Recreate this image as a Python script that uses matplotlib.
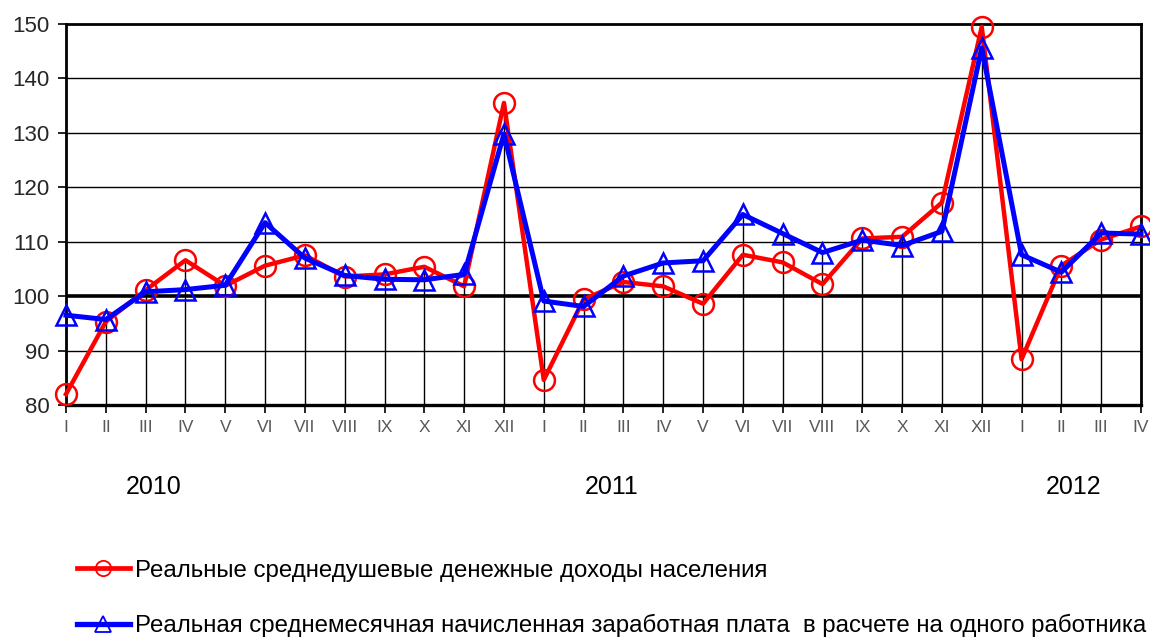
import matplotlib
matplotlib.use('Agg')
import matplotlib.pyplot as plt
from matplotlib.lines import Line2D
from matplotlib.transforms import blended_transform_factory
import numpy as np

months = ['I', 'II', 'III', 'IV', 'V', 'VI', 'VII', 'VIII', 'IX', 'X', 'XI', 'XII',
          'I', 'II', 'III', 'IV', 'V', 'VI', 'VII', 'VIII', 'IX', 'X', 'XI', 'XII',
          'I', 'II', 'III', 'IV']
years = ['2010', '2011', '2012']
year_pos = [2.2, 13.7, 25.3]

income = [82.0, 95.3, 101.1, 106.6, 101.9, 105.6, 107.5, 103.6, 104.0, 105.4, 101.8, 135.5,
          84.6, 99.4, 102.6, 101.8, 98.6, 107.6, 106.2, 102.2, 110.6, 110.9, 117.2, 149.5,
          88.4, 105.6, 110.4, 112.8]
wage = [96.5, 95.7, 100.8, 101.2, 102.0, 113.5, 107.0, 103.8, 103.1, 103.0, 104.0, 129.8,
        99.1, 98.1, 103.7, 106.1, 106.5, 115.0, 111.5, 108.0, 110.3, 109.3, 111.9, 145.6,
        107.6, 104.4, 111.6, 111.4]

label_income = 'Реальные среднедушевые денежные доходы населения'
label_wage = 'Реальная среднемесячная начисленная заработная плата  в расчете на одного работника'

plt.rcParams['font.family'] = ['Liberation Sans', 'DejaVu Sans']

fig = plt.figure(figsize=(11.5, 6.4), dpi=100)
ax = fig.add_axes([66 / 1150, 1 - 405 / 640, (1141 - 66) / 1150, (405 - 24) / 640])

x = np.arange(len(months))

# horizontal grid + reference line at 100
for v in range(90, 150, 10):
    if v == 100:
        continue
    ax.axhline(v, color='black', lw=1.0, zorder=1)
ax.axhline(100, color='black', lw=2.6, zorder=2)

# drop lines from axis up to the higher of the two series
tops = np.maximum(income, wage)
ax.vlines(x, 80, tops, color='black', lw=1.0, zorder=1)

ax.plot(x, income, color='#ff0000', lw=3.2, marker='o', ms=15, mfc='none',
        mec='#ff0000', mew=1.8, zorder=6, clip_on=False)
ax.plot(x, wage, color='#0000ff', lw=3.6, marker='^', ms=15, mfc='none',
        mec='#0000ff', mew=1.8, zorder=7, clip_on=False)

ax.set_xlim(0, len(months) - 1)
ax.set_ylim(80, 150)
ax.set_yticks(range(80, 151, 10))
ax.set_xticks(x)
ax.set_xticklabels(months, color='#595959', fontsize=12.5)
ax.tick_params(axis='y', labelsize=16, labelcolor='#262626', length=6, width=1.2, pad=6)
ax.tick_params(axis='x', length=6, width=1.2, direction='out', pad=5)
for side in ['left', 'bottom', 'top', 'right']:
    ax.spines[side].set_linewidth(2.0)
    ax.spines[side].set_zorder(5)
ax.spines['bottom'].set_linewidth(2.4)

trans = blended_transform_factory(ax.transData, ax.transAxes)
for yr, pos in zip(years, year_pos):
    ax.text(pos, -0.215, yr, transform=trans, ha='center', va='center', fontsize=18)

handles = [
    Line2D([], [], color='#ff0000', lw=3.4, marker='o', ms=11, mfc='none', mec='#ff0000', mew=1.3),
    Line2D([], [], color='#0000ff', lw=3.8, marker='^', ms=11, mfc='none', mec='#0000ff', mew=1.3),
]
fig.legend(handles, [label_income, label_wage], loc='lower left',
           bbox_to_anchor=(77 / 1150, 0.004), frameon=False, fontsize=17.3,
           borderpad=0, borderaxespad=0,
           handlelength=2.2, handletextpad=0.2, labelspacing=1.35)

fig.savefig('out.png', dpi=100)
